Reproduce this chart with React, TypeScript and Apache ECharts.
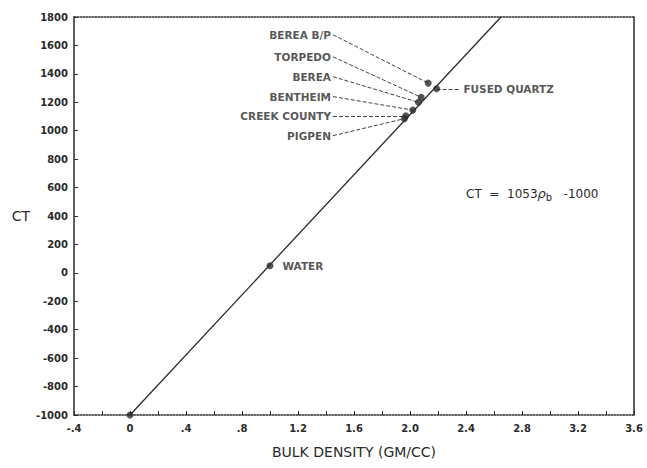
import React, { useEffect, useRef } from "react";
import * as echarts from "echarts";

// Sample points (bulk density g/cc, CT number)
const pointNames = ["BEREA B/P", "TORPEDO", "BEREA", "BENTHEIM", "CREEK COUNTY", "PIGPEN", "FUSED QUARTZ", "WATER"];
const densities = [2.13, 2.08, 2.06, 2.02, 1.97, 1.96, 2.19, 1.0];
const ctValues = [1335, 1235, 1200, 1145, 1105, 1085, 1295, 50];
const origin = [0, -1000];

// Fitted line CT = 1053 rho_b - 1000, endpoints
const fitLine = [
  [0, -1000],
  [2.65, 1800],
];

// Left-side label anchors (data coords) for the first six points
const leftLabelX = 1.45;
const leftLabelY = [1675, 1520, 1380, 1240, 1105, 965];
// Fused quartz label anchor
const fusedLabel = [2.36, 1295];

const xTickLabels: Record<string, string> = {
  "-0.4": "-.4",
  "0": "0",
  "0.4": ".4",
  "0.8": ".8",
  "1.2": "1.2",
  "1.6": "1.6",
  "2": "2.0",
  "2.4": "2.4",
  "2.8": "2.8",
  "3.2": "3.2",
  "3.6": "3.6",
};

const FONT = "DejaVu Sans";
const INK = "#2a2a2a";

export default function App() {
  const ref = useRef<HTMLDivElement>(null);
  useEffect(() => {
    if (!ref.current) return;
    const chart = echarts.init(ref.current, undefined, { renderer: "svg" });

    const leaders: any[] = [];
    for (let i = 0; i < 6; i++) {
      leaders.push({
        coords: [
          [leftLabelX, leftLabelY[i]],
          [densities[i], ctValues[i]],
        ],
      });
    }
    leaders.push({
      coords: [
        [densities[6], ctValues[6]],
        [fusedLabel[0], fusedLabel[1]],
      ],
    });

    const option: any = {
      animation: false,
      backgroundColor: "#ffffff",
      grid: { left: 74, right: 13, top: 17, bottom: 53, containLabel: false },
      xAxis: [
        {
          type: "value",
          min: -0.4,
          max: 3.6,
          interval: 0.4,
          position: "bottom",
          name: "BULK DENSITY (GM/CC)",
          nameLocation: "middle",
          nameGap: 30,
          nameTextStyle: { fontFamily: FONT, fontSize: 14, color: INK },
          axisLine: { show: true, onZero: false, lineStyle: { color: INK, width: 1.5, type: "dotted" } },
          axisTick: { show: true, inside: true, length: 4, lineStyle: { color: INK } },
          minorTick: { show: true, splitNumber: 2, length: 4, lineStyle: { color: INK } },
          splitLine: { show: false },
          axisLabel: {
            fontFamily: FONT,
            fontSize: 10,
            fontWeight: "bold",
            color: INK,
            margin: 8,
            formatter: (v: number) => {
              const k = String(Math.round(v * 10) / 10);
              return xTickLabels[k] ?? k;
            },
          },
        },
        {
          type: "value",
          min: -0.4,
          max: 3.6,
          interval: 0.4,
          position: "top",
          axisLine: { show: true, onZero: false, lineStyle: { color: INK, width: 1.5, type: "dotted" } },
          axisTick: { show: false },
          axisLabel: { show: false },
          splitLine: { show: false },
        },
      ],
      yAxis: [
        {
          type: "value",
          min: -1000,
          max: 1800,
          interval: 200,
          position: "left",
          name: "CT",
          nameLocation: "middle",
          nameRotate: 0,
          nameGap: 40,
          nameTextStyle: { fontFamily: FONT, fontSize: 14, color: INK },
          axisLine: { show: true, onZero: false, lineStyle: { color: INK, width: 1.5 } },
          axisTick: { show: true, inside: true, length: 4, lineStyle: { color: INK } },
          splitLine: { show: false },
          axisLabel: {
            fontFamily: FONT,
            fontSize: 10,
            fontWeight: "bold",
            color: INK,
            margin: 6,
            formatter: (v: number) => String(Math.round(v)),
          },
        },
        {
          type: "value",
          min: -1000,
          max: 1800,
          interval: 200,
          position: "right",
          axisLine: { show: true, onZero: false, lineStyle: { color: INK, width: 1.5 } },
          axisTick: { show: false },
          axisLabel: { show: false },
          splitLine: { show: false },
        },
      ],
      series: [
        {
          type: "line",
          data: fitLine,
          symbol: "none",
          lineStyle: { color: INK, width: 1.3 },
          z: 2,
        },
        {
          type: "lines",
          coordinateSystem: "cartesian2d",
          data: leaders,
          lineStyle: { color: "#444", width: 1, type: [4, 2], opacity: 1 },
          z: 2,
        },
        {
          type: "scatter",
          symbol: "circle",
          symbolSize: 7,
          itemStyle: { color: INK },
          data: [
            origin,
            ...densities.map((d, i) => ({
              value: [d, ctValues[i]],
              name: pointNames[i],
              label:
                i === 7
                  ? {
                      show: true,
                      position: "right",
                      distance: 9,
                      formatter: pointNames[i],
                      fontFamily: FONT,
                      fontSize: 10.5,
                      fontWeight: "bold",
                      color: INK,
                    }
                  : { show: false },
            })),
          ],
          z: 3,
        },
        {
          type: "scatter",
          symbolSize: 0,
          silent: true,
          data: [
            ...leftLabelY.map((y, i) => ({
              value: [leftLabelX, y],
              label: {
                show: true,
                position: "left",
                distance: 2,
                formatter: pointNames[i],
              },
            })),
            {
              value: fusedLabel,
              label: { show: true, position: "right", distance: 3, formatter: pointNames[6] },
            },
          ],
          label: { fontFamily: FONT, fontSize: 10.5, fontWeight: "bold", color: INK },
          z: 4,
        },
      ],
      graphic: [
        {
          type: "text",
          left: 466,
          top: 187,
          style: {
            text: "CT  =  1053{r|ρ}{s|b}   -1000",
            fontFamily: FONT,
            fontSize: 12,
            fill: INK,
            rich: {
              r: { fontFamily: FONT, fontSize: 13, fontStyle: "italic", fill: INK },
              s: { fontFamily: FONT, fontSize: 10, fill: INK, padding: [7, 0, 0, 0] },
            },
          },
        },
      ],
    };
    chart.setOption(option);
    return () => chart.dispose();
  }, []);
  return (
    <div
      ref={ref}
      style={{ position: "fixed", left: 0, top: 0, width: 647, height: 468, background: "#fff" }}
    />
  );
}
